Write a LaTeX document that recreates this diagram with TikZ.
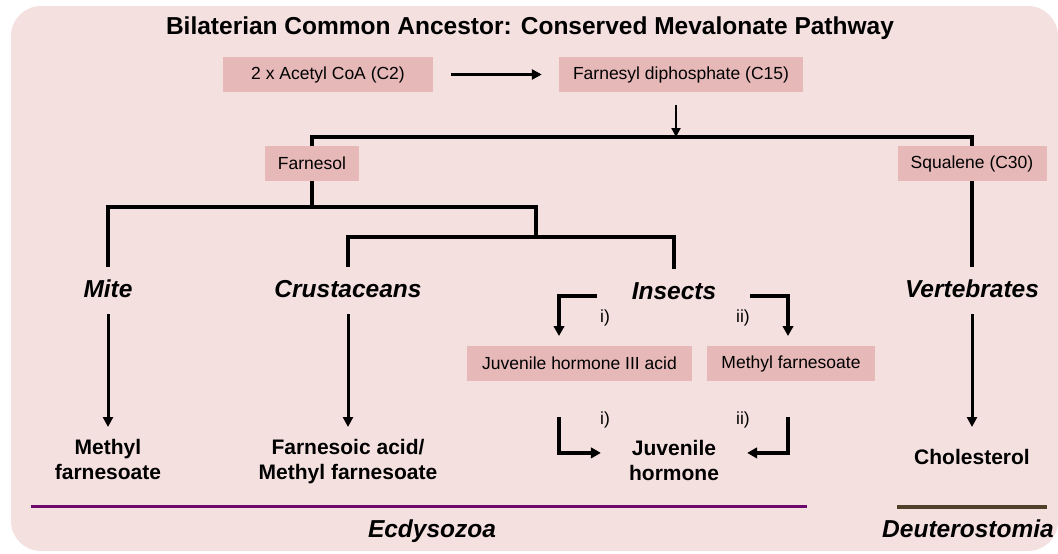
\documentclass[tikz,border=0pt]{standalone}
\usepackage{fontspec}
\setmainfont{Liberation Sans}
\usetikzlibrary{arrows.meta}
\definecolor{bgpink}{RGB}{245,224,224}
\definecolor{boxpink}{RGB}{230,184,184}
\definecolor{ecdycol}{RGB}{110,10,110}
\definecolor{deutcol}{RGB}{80,64,42}
\begin{document}
\begin{tikzpicture}[x=1pt,y=-1pt,
 box/.style={fill=boxpink, minimum height=35pt, inner sep=0pt, font=\fontsize{17.5}{21}\selectfont},
 taxon/.style={font=\fontsize{24.5}{29}\selectfont\bfseries\itshape, text height=18pt, text depth=5pt, inner xsep=0pt, inner ysep=12pt, anchor=base},
 product/.style={font=\fontsize{21}{25}\selectfont\bfseries, align=center, anchor=north, inner xsep=0pt, inner ysep=12pt},
 tree/.style={line width=4.2pt},
 arr/.style={line width=3pt, -{Triangle[length=10pt,width=10pt]}},
 thinarr/.style={line width=2.3pt, -{Triangle[length=9pt,width=9pt]}},
 elbow/.style={line width=3.3pt, -{Triangle[length=10pt,width=10.5pt]}},
 roman/.style={font=\fontsize{17.5}{21}\selectfont, inner sep=0pt}]
\useasboundingbox (0,0) rectangle (1058,554);
\fill[bgpink, rounded corners=30pt] (11,6) rectangle (1058,551);

\node[font=\fontsize{24.5}{29}\selectfont\bfseries] (title) at (530,28) {Bilaterian Common Ancestor: Conserved Mevalonate Pathway};

\node[box, minimum width=210pt] (acetyl) at (328,74.5) {2 x Acetyl CoA (C2)};
\node[box, minimum width=244pt] (fpp) at (681,74.5) {Farnesyl diphosphate (C15)};
\node[box, minimum width=94pt] (farnesol) at (312,163.5) {Farnesol};
\node[box, minimum width=149pt] (squalene) at (972,163.5) {Squalene (C30)};

\node[taxon] (mite) at (108,297) {Mite};
\node[taxon] (crust) at (348,297) {Crustaceans};
\node[taxon] (insects) at (674,299) {Insects};
\node[taxon] (vert) at (972,297) {Vertebrates};

\node[box, minimum width=225pt] (jhacid) at (579.5,363.5) {Juvenile hormone III acid};
\node[box, minimum width=168pt] (mf) at (791,363.5) {Methyl farnesoate};

\node[product] (mitep) at (108,427) {Methyl\\farnesoate};
\node[product] (crustp) at (348,427) {Farnesoic acid/\\Methyl farnesoate};
\node[product] (jh) at (674,428) {Juvenile\\hormone};
\node[product, inner ysep=22pt] (chol) at (972,427) {Cholesterol};

\node[roman] (i1) at (605,318) {i)};
\node[roman] (ii1) at (743,318) {ii)};
\node[roman] (i2) at (605,420) {i)};
\node[roman] (ii2) at (743,420) {ii)};

\node[taxon] (ecdy) at (432,537) {Ecdysozoa};
\node[taxon] (deut) at (968,537) {Deuterostomia};
\coordinate (e1) at (31,506);
\coordinate (e2) at (807,506);
\coordinate (d1) at (897,507);
\coordinate (d2) at (1047,507);
\draw[ecdycol, line width=3pt] (e1) -- (e2);
\draw[deutcol, line width=3.5pt] (d1) -- (d2);

% top pathway
\draw[arr, shorten <=18pt, shorten >=17pt] (acetyl) -- (fpp);
\coordinate (j1) at (676,137);
\draw[thinarr, shorten <=13pt] (fpp.south -| j1) -- (j1);
\draw[tree] (farnesol.north) -- (farnesol.north |- j1) -- (squalene.north |- j1) -- (squalene.north);

% farnesol branch
\coordinate (j2) at (536,207);
\coordinate (j3) at (536,237);
\draw[tree] (farnesol.south) -- (farnesol.south |- j2);
\draw[tree] (mite.north) |- (j2) -- (j3);
\draw[tree] (crust.north) |- (j3) -| (insects.north);
\draw[tree] (squalene) -- (vert);

% products
\draw[arr] (mite) -- (mitep);
\draw[arr] (crust) -- (crustp);
\draw[arr] (vert) -- (chol);

% insect routes
\coordinate (a1) at (559,336);
\coordinate (a2) at (788,336);
\draw[elbow] ([xshift=-35pt,yshift=-3.5pt]insects.west) -| (a1);
\draw[elbow] ([xshift=34pt,yshift=-3.5pt]insects.east) -| (a2);
\coordinate (b1) at (559,417);
\coordinate (b2) at (788,417);
\draw[elbow] (b1) |- ([xshift=-28pt,yshift=7.5pt]jh.west);
\draw[elbow] (b2) |- ([xshift=28pt,yshift=7.5pt]jh.east);
\end{tikzpicture}
\end{document}
